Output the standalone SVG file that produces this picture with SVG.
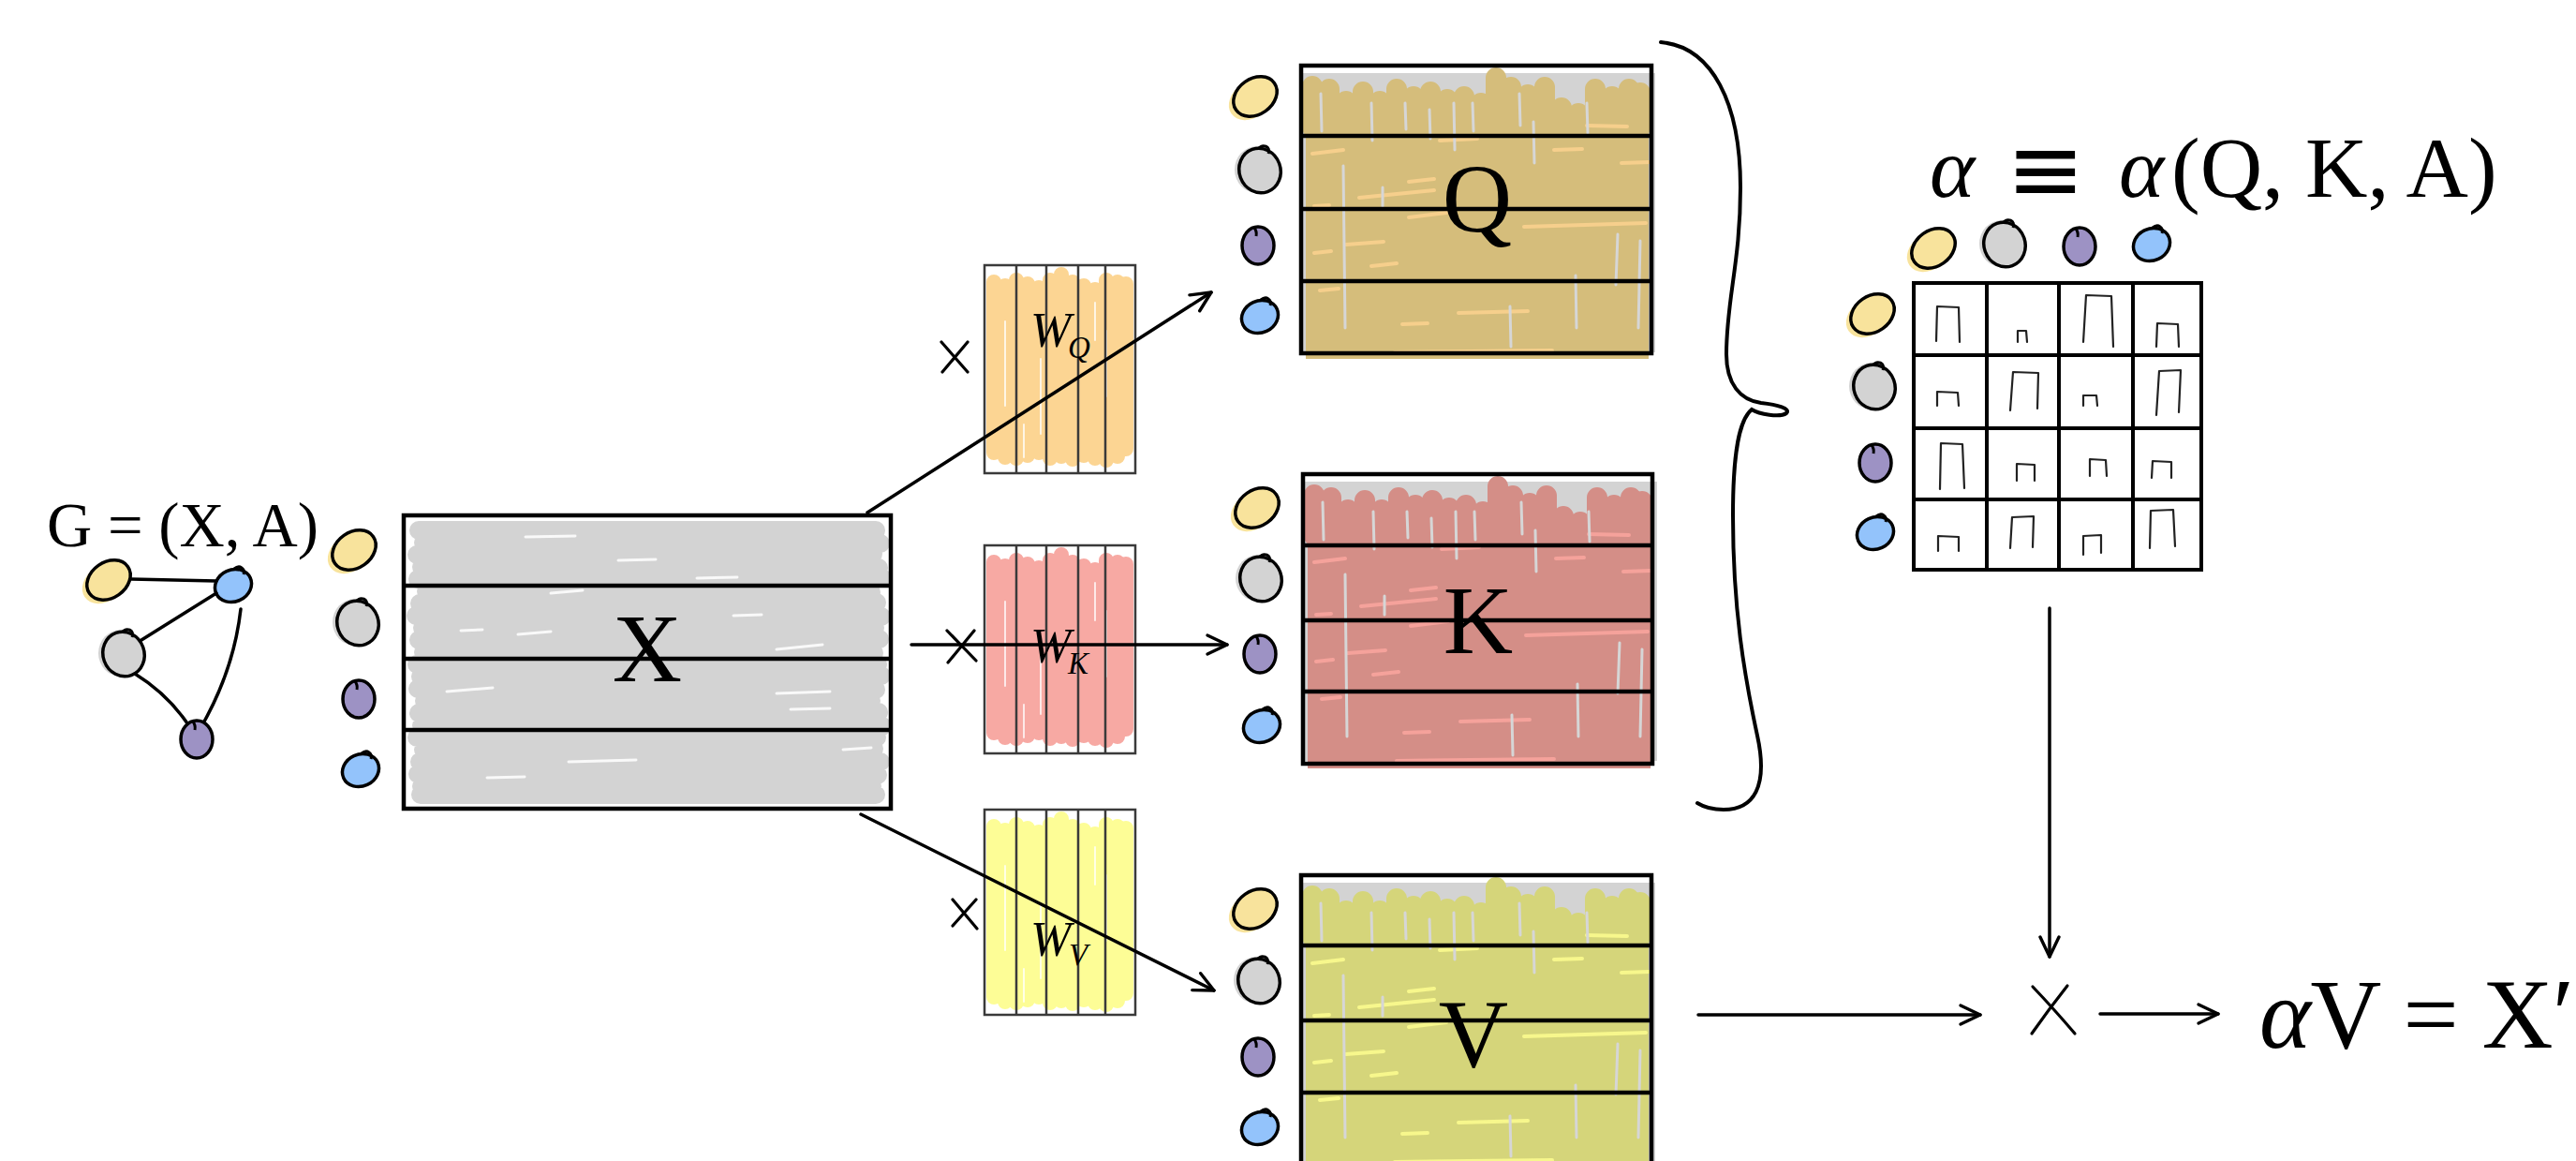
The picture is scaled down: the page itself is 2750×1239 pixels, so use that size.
<svg xmlns="http://www.w3.org/2000/svg" xmlns:xlink="http://www.w3.org/1999/xlink" width="2750" height="1239" viewBox="0 0 2750 1239">
<style>
  .lbl { font-family: "Liberation Serif", "DejaVu Serif", serif; fill: #000; }
  .big { font-size: 103px; text-anchor: middle; }
  .it { font-style: italic; }
  .box { fill: none; stroke: #000; stroke-width: 4.5; }
  .wbox { fill: none; stroke: #3a3a3a; stroke-width: 2.5; }
  .arrow { fill: none; stroke: #000; stroke-width: 3.5; stroke-linecap: round; marker-end: url(#chev); }
  .edge { fill: none; stroke: #000; stroke-width: 3.5; stroke-linecap: round; }
  .op { fill: none; stroke: #000; stroke-width: 3.2; stroke-linecap: round; }
  .glyph { fill: none; stroke: #222; stroke-width: 2.2; stroke-linecap: round; stroke-linejoin: round; }
  .grid { fill: none; stroke: #000; stroke-width: 4; }
  .brace { fill: none; stroke: #000; stroke-width: 4; stroke-linecap: round; }
</style>
<defs>
  <marker id="chev" viewBox="-24 -14 28 28" refX="0" refY="0" markerWidth="28" markerHeight="28" markerUnits="userSpaceOnUse" orient="auto">
    <path d="M-21,-10 L0,0 L-21,10" fill="none" stroke="#000" stroke-width="3.4" stroke-linecap="round" stroke-linejoin="round"/>
  </marker>
  <g id="nY">
    <ellipse cx="-5" cy="4" rx="25" ry="19" transform="rotate(-35 -5 4)" fill="#f8e39c"/>
    <ellipse cx="0" cy="0" rx="25" ry="19" transform="rotate(-35)" fill="#f8e39c" stroke="#000" stroke-width="3.5"/>
  </g>
  <g id="nG">
    <ellipse cx="-3" cy="-1" rx="24" ry="25" fill="#d3d3d3"/>
    <ellipse cx="0" cy="0" rx="22" ry="24" transform="rotate(-20)" fill="#d3d3d3" stroke="#000" stroke-width="3.5"/>
    <path d="M-2,-23 C3,-29 12,-26 9,-18" fill="none" stroke="#000" stroke-width="3"/>
  </g>
  <g id="nP">
    <ellipse cx="0" cy="0" rx="17" ry="20" fill="#9d92c4" stroke="#000" stroke-width="3.5"/>
    <path d="M-4,-19 Q-1,-15 -2,-10" fill="none" stroke="#000" stroke-width="3"/>
  </g>
  <g id="nB">
    <ellipse cx="0" cy="0" rx="20" ry="17" transform="rotate(-25)" fill="#93c3fb" stroke="#000" stroke-width="3.5"/>
    <path d="M1,-18 C7,-23 13,-18 11,-12" fill="none" stroke="#000" stroke-width="3"/>
  </g>
  <path id="drips" fill="none" stroke-width="22" stroke-linecap="round" d="M12,22 V66 M30,25 V66 M48,38 V66 M66,28 V66 M84,38 V66 M102,25 V66 M120,33 V66 M138,28 V66 M156,36 V66 M174,33 V66 M192,40 V66 M208,13 V66 M224,23 V66 M242,31 V66 M260,23 V66 M278,45 V66 M296,51 V66 M314,25 V66 M332,33 V66 M350,25 V66 M362,29 V66"/>
  <path id="hl" fill="none" stroke-width="4" stroke-linecap="round" d="M148,80 L188,78 M115,124 L142,121 M115,162 L155,157 M238,172 L368,168 M48,191 L88,188 M75,214 L102,211 M168,264 L242,262 M108,276 L135,275 M100,306 L268,304 M305,64 L348,65 M342,104 L372,103 M12,94 L45,90 M62,141 L142,133 M20,240 L40,238 M270,90 L300,89 M14,150 L30,149 M14,200 L32,198"/>
  <path id="vst" fill="none" stroke="#d6d6d6" stroke-width="3" stroke-linecap="round" d="M45,107 L47,280 M75,40 L76,80 M163,40 L164,90 M248,60 L249,104 M293,224 L294,280 M338,180 L336,234 M362,187 L360,280 M137,47 L138,78 M87,130 L87,150 M223,257 L224,300 M21,30 L22,70 M111,40 L112,68 M233,30 L234,64 M305,40 L306,72 M183,40 L184,70"/>
  <g id="wf">
    <path fill="none" stroke-width="16" stroke-linecap="round" d="M10,18 V200 M22,22 V205 M34,16 V206 M46,20 V203 M58,24 V200 M70,16 V206 M82,10 V204 M94,18 V207 M106,22 V203 M118,26 V206 M130,16 V208 M142,18 V204 M151,20 V196"/>
    <path fill="none" stroke="#fff" stroke-opacity="0.75" stroke-width="2" stroke-linecap="round" d="M22,60 V150 M60,100 V180 M130,70 V140 M100,150 V200 M42,170 V205 M118,40 V80"/>
  </g>
</defs>

<rect x="0" y="0" width="2750" height="1239" fill="#fff"/>

<!-- Graph G -->
<g id="graph-G">
  <text class="lbl" x="50" y="583" font-size="68" textLength="290" lengthAdjust="spacingAndGlyphs">G = (X, A)</text>
  <use href="#nY" x="116" y="619"/>
  <use href="#nB" x="249" y="625"/>
  <use href="#nG" x="132" y="698"/>
  <use href="#nP" x="210" y="789"/>
</g>

<!-- X matrix -->
<g id="X">
  <path fill="none" stroke="#d3d3d3" stroke-width="20" stroke-linecap="round" d="M447,566 L935,566 M452,579 L940,580 M445,592 L932,591 M450,605 L938,606 M446,618 L942,617 M455,631 L930,632 M448,644 L936,643 M444,657 L941,658 M451,670 L934,670 M447,683 L939,682 M452,696 L933,697 M445,709 L937,709 M449,722 L941,721 M446,735 L935,736 M453,748 L930,748 M447,761 L938,760 M450,774 L942,775 M445,787 L936,787 M452,800 L933,799 M448,813 L940,813 M446,826 L937,827 M450,839 L931,839 M449,848 L935,848"/>
  <path fill="none" stroke="#fff" stroke-opacity="0.85" stroke-width="3" stroke-linecap="round" d="M561,573 L614,572 M588,633 L622,630 M492,673 L515,672 M553,677 L588,674 M783,657 L813,656 M829,693 L878,688 M829,740 L886,738 M607,813 L679,811 M844,757 L886,756 M477,738 L526,734 M744,617 L787,616 M660,598 L700,597 M900,800 L930,798 M520,830 L560,829"/>
  <rect class="box" x="431" y="550" width="520" height="313"/>
  <path class="box" d="M431,625 H951 M431,703 H951 M431,779 H951"/>
  <text class="lbl big" x="691" y="727">X</text>
  <use href="#nY" x="378" y="587"/>
  <use href="#nG" x="382" y="665"/>
  <use href="#nP" x="383" y="746"/>
  <use href="#nB" x="385" y="822"/>
</g>

<!-- Weight matrices -->
<g id="WQ">
  <use href="#wf" transform="translate(1051,283)" stroke="#fcd593"/>
  <rect class="wbox" x="1051" y="283" width="161" height="222"/>
  <path class="wbox" d="M1085,283 V505 M1117,283 V505 M1151,283 V505 M1180,283 V505"/>
  <text class="lbl it" x="1100" y="370" font-size="52">W<tspan x="1140" y="382" font-size="33">Q</tspan></text>
</g>
<g id="WK">
  <use href="#wf" transform="translate(1051,582)" stroke="#f7a9a3"/>
  <rect class="wbox" x="1051" y="582" width="161" height="222"/>
  <path class="wbox" d="M1085,582 V804 M1117,582 V804 M1151,582 V804 M1180,582 V804"/>
  <text class="lbl it" x="1100" y="707" font-size="52">W<tspan x="1140" y="719" font-size="33">K</tspan></text>
</g>
<g id="WV">
  <use href="#wf" transform="translate(1051,864)" stroke="#fdfd96"/>
  <rect class="wbox" x="1051" y="864" width="161" height="219"/>
  <path class="wbox" d="M1085,864 V1083 M1117,864 V1083 M1151,864 V1083 M1180,864 V1083"/>
  <text class="lbl it" x="1100" y="1020" font-size="52">W<tspan x="1141" y="1030" font-size="33">V</tspan></text>
</g>

<!-- Q matrix -->
<g id="Q">
  <rect x="1391" y="78" width="376" height="298" fill="#d3d3d3"/>
  <rect x="1394" y="118" width="366" height="265" fill="#d5bd7b"/>
  <use href="#drips" transform="translate(1389,70)" stroke="#d5bd7b"/>
  <use href="#hl" transform="translate(1389,70)" stroke="#f6cf8c"/>
  <use href="#vst" transform="translate(1389,70)"/>
  <rect class="box" x="1389" y="70" width="374" height="307"/>
  <path class="box" d="M1389,145 H1763 M1389,223 H1763 M1389,300 H1763"/>
  <text class="lbl big" x="1577" y="247">Q</text>
  <use href="#nY" x="1340" y="103"/>
  <use href="#nG" x="1345" y="182"/>
  <use href="#nP" x="1343" y="262"/>
  <use href="#nB" x="1345" y="338"/>
</g>

<!-- K matrix -->
<g id="K">
  <rect x="1393" y="514" width="376" height="298" fill="#d3d3d3"/>
  <rect x="1396" y="554" width="366" height="266" fill="#d48e87"/>
  <use href="#drips" transform="translate(1391,506)" stroke="#d48e87"/>
  <use href="#hl" transform="translate(1391,506)" stroke="#f5a29b"/>
  <use href="#vst" transform="translate(1391,506)"/>
  <rect class="box" x="1391" y="506" width="373" height="309"/>
  <path class="box" d="M1391,582 H1764 M1391,662 H1764 M1391,738 H1764"/>
  <text class="lbl big" x="1578" y="697">K</text>
  <use href="#nY" x="1342" y="542"/>
  <use href="#nG" x="1346" y="618"/>
  <use href="#nP" x="1345" y="698"/>
  <use href="#nB" x="1347" y="775"/>
</g>

<!-- V matrix -->
<g id="V">
  <rect x="1391" y="942" width="376" height="310" fill="#d3d3d3"/>
  <rect x="1394" y="982" width="366" height="274" fill="#d5d57a"/>
  <use href="#drips" transform="translate(1389,934)" stroke="#d5d57a"/>
  <use href="#hl" transform="translate(1389,934)" stroke="#f7f78c"/>
  <use href="#vst" transform="translate(1389,934)"/>
  <rect class="box" x="1389" y="934" width="374" height="320"/>
  <path class="box" d="M1389,1009 H1763 M1389,1089 H1763 M1389,1166 H1763"/>
  <text class="lbl big" x="1573" y="1138">V</text>
  <use href="#nY" x="1340" y="970"/>
  <use href="#nG" x="1344" y="1047"/>
  <use href="#nP" x="1343" y="1128"/>
  <use href="#nB" x="1345" y="1204"/>
</g>

<!-- Brace -->
<g id="brace">
  <path class="brace" d="M1773,45 C1828,50 1858,110 1858,200 C1858,280 1843,320 1843,378 C1843,410 1858,427 1880,430 C1898,432 1912,436 1907,441 C1900,446 1878,442 1870,437 C1857,448 1850,480 1850,550 C1850,650 1862,720 1876,785 C1888,840 1872,864 1840,864 C1830,864 1820,862 1812,857"/>
</g>

<!-- Attention matrix alpha -->
<g id="alpha">
  <text class="lbl" y="210" font-size="92"><tspan class="it" x="2060">α</tspan> <tspan x="2142" y="215" font-size="100" font-family="DejaVu Sans, sans-serif">≡</tspan> <tspan class="it" x="2262" y="210">α</tspan><tspan x="2318" y="210">(Q, K, A)</tspan></text>
  <use href="#nY" x="2064" y="265"/>
  <use href="#nG" x="2140" y="261"/>
  <use href="#nP" x="2220" y="263"/>
  <use href="#nB" x="2297" y="261"/>
  <use href="#nY" x="1999" y="335"/>
  <use href="#nG" x="2001" y="413"/>
  <use href="#nP" x="2002" y="494"/>
  <use href="#nB" x="2002" y="569"/>
  <rect class="grid" x="2043" y="302" width="307" height="306"/>
  <path class="grid" d="M2121,302 V608 M2198,302 V608 M2277,302 V608 M2043,379 H2350 M2043,457 H2350 M2043,533 H2350"/>
  <path class="glyph" d="M2067,364 L2068,327 L2091,328 L2092,365 M2154,365 L2154,353 L2163,353 L2164,365 M2224,365 L2227,315 L2254,316 L2256,370 M2302,370 L2303,345 L2325,346 L2326,370 M2068,433 L2068,418 L2090,419 L2091,433 M2146,438 L2149,397 L2176,398 L2175,436 M2224,433 L2224,422 L2238,422 L2239,433 M2302,443 L2305,396 L2328,395 L2326,440 M2071,522 L2072,473 L2095,474 L2097,521 M2153,513 L2153,495 L2172,496 L2172,513 M2231,508 L2231,490 L2248,491 L2249,508 M2297,510 L2298,492 L2318,493 L2318,510 M2069,588 L2069,572 L2091,573 L2091,588 M2146,585 L2148,552 L2171,551 L2170,584 M2224,592 L2224,572 L2243,571 L2243,590 M2295,585 L2296,545 L2320,544 L2322,583"/>
</g>

<!-- Multiplication operators -->
<g id="operators">
  <path class="op" d="M1005,365 L1033,397 M1033,365 L1006,397"/>
  <path class="op" d="M1011,673 L1042,705 M1040,673 L1012,707"/>
  <path class="op" d="M1017,960 L1043,991 M1042,960 L1017,988"/>
  <path class="op" d="M2170,1053 Q2192,1076 2215,1103 M2207,1052 Q2188,1076 2169,1103"/>
</g>

<!-- Result -->
<g id="result">
  <text class="lbl" x="2412" y="1118" font-size="105" textLength="336" lengthAdjust="spacing"><tspan class="it">α</tspan>V = X′</text>
</g>

<!-- Connectors -->
<g id="connectors">
  <path class="edge" d="M140,618 L231,620"/>
  <path class="edge" d="M231,633 L151,683"/>
  <path class="edge" d="M144,719 Q178,740 200,772"/>
  <path class="edge" d="M257,650 Q250,712 218,770"/>
  <path class="arrow" d="M926,547 L1293,312"/>
  <path class="arrow" d="M973,688 L1310,688"/>
  <path class="arrow" d="M919,869 L1296,1057"/>
  <path class="arrow" d="M2188,649 L2188,1021"/>
  <path class="arrow" d="M1813,1083 L2114,1083"/>
  <path class="arrow" d="M2242,1082 L2368,1082"/>
</g>
</svg>
